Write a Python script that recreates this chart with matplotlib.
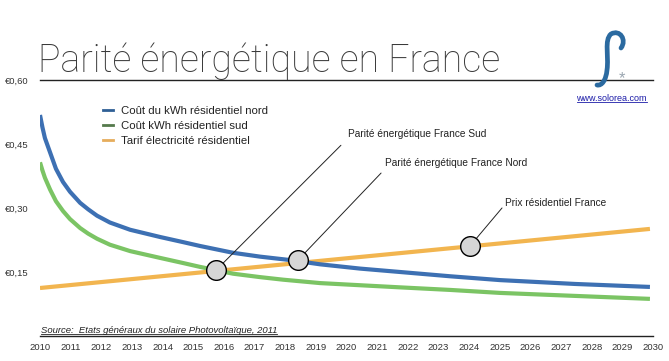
#!/usr/bin/env python3
"""
Parité énergétique en France - coût du kWh PV vs tarif résidentiel
"""

import matplotlib
matplotlib.use('Agg')
import matplotlib.pyplot as plt
from matplotlib.lines import Line2D
from matplotlib.path import Path
from matplotlib.patches import PathPatch

plt.rcParams['font.family'] = ['Liberation Sans', 'DejaVu Sans']

# coût du kWh résidentiel nord
years_nord = [2010.0, 2010.08, 2010.16, 2010.33, 2010.52, 2010.75, 2010.98, 2011.31, 2011.57,
              2011.86, 2012.28, 2012.94, 2013.92, 2014.67, 2015.22, 2016.30, 2017.18,
              2018.16, 2019.14, 2020.44, 2021.75, 2023.38, 2025.01, 2027.45, 2029.9]
cout_nord = [0.518, 0.489, 0.464, 0.430, 0.392, 0.361, 0.338, 0.312, 0.297,
             0.282, 0.266, 0.249, 0.232, 0.220, 0.211, 0.195, 0.186,
             0.178, 0.168, 0.158, 0.150, 0.140, 0.131, 0.122, 0.115]

# coût du kWh résidentiel sud
years_sud = [2010.0, 2010.08, 2010.16, 2010.33, 2010.52, 2010.75, 2010.98, 2011.31, 2011.57,
             2011.86, 2012.28, 2012.94, 2013.92, 2014.67, 2015.22, 2016.30, 2017.18,
             2017.93, 2019.14, 2020.44, 2021.75, 2023.38, 2025.01, 2027.45, 2029.9]
cout_sud = [0.407, 0.388, 0.371, 0.343, 0.316, 0.293, 0.274, 0.253, 0.240,
            0.228, 0.214, 0.199, 0.183, 0.171, 0.162, 0.146, 0.138,
            0.132, 0.124, 0.119, 0.114, 0.108, 0.101, 0.094, 0.087]

# tarif électricité résidentiel
years_tarif = [2010.0, 2029.9]
tarif = [0.1125, 0.251]

# points de parité
parite_years = [2015.74, 2018.42, 2024.03]
parite_vals = [0.154, 0.178, 0.211]
parite_labels = ["Parité énergétique France Sud",
                 "Parité énergétique France Nord",
                 "Prix résidentiel France"]

xticks = list(range(2010, 2031))
yticks = [0.15, 0.30, 0.45, 0.60]
ytick_labels = ["€0,15", "€0,30", "€0,45", "€0,60"]

BLUE = '#3d70b3'
GREEN = '#7bc464'
ORANGE = '#f2b54f'

W, H = 669, 361
fig = plt.figure(figsize=(W / 100, H / 100), dpi=100)
ax = fig.add_axes([40 / W, 25 / H, 613 / W, 256 / H])

ax.plot(years_tarif, tarif, color=ORANGE, lw=3, solid_capstyle='butt', zorder=2)
ax.plot(years_sud, cout_sud, color=GREEN, lw=3, solid_capstyle='butt', zorder=2)
ax.plot(years_nord, cout_nord, color=BLUE, lw=3, solid_capstyle='butt', zorder=3)

# traits d'annotation et textes (décalages en pixels depuis le cercle)
line_off = [(125, 125), (83, 87), (32, 38)]
text_off = [(132, 136), (87, 97), (35, 43)]
for x, y, lab, lo, to in zip(parite_years, parite_vals, parite_labels, line_off, text_off):
    ax.annotate('', xy=(x, y), xytext=(lo[0] * 0.72, lo[1] * 0.72),
                textcoords='offset points',
                arrowprops=dict(arrowstyle='-', color='#222222', lw=0.7,
                                shrinkA=0, shrinkB=0))
    ax.annotate(lab, xy=(x, y), xytext=(to[0] * 0.72, to[1] * 0.72),
                textcoords='offset points', fontsize=7.3, color='#222222',
                ha='left', va='center')
ax.scatter(parite_years, parite_vals, s=200, facecolor='#d6d6d6',
           edgecolor='black', linewidth=1.0, zorder=5)

ax.set_xlim(2010, 2030)
ax.set_ylim(0, 0.60)
ax.set_xticks(xticks)
ax.set_xticklabels([str(y) for y in xticks], fontsize=6.8, color='#333333')
ax.set_yticks(yticks)
ax.set_yticklabels(ytick_labels, fontsize=6.8, color='#333333')
ax.tick_params(length=0)
ax.tick_params(axis='x', pad=5)
ax.tick_params(axis='y', pad=8)
for s in ['left', 'right']:
    ax.spines[s].set_visible(False)
for s in ['top', 'bottom']:
    ax.spines[s].set_linewidth(1.0)
    ax.spines[s].set_color('#222222')

# légende
handles = [Line2D([], [], color='#2f5f95', lw=2),
           Line2D([], [], color='#557a4c', lw=2),
           Line2D([], [], color='#e6ad5c', lw=2)]
labels = ["Coût du kWh résidentiel nord", "Coût kWh résidentiel sud",
          "Tarif électricité résidentiel"]
fig.legend(handles, labels, loc='upper left', bbox_to_anchor=(103 / W, 1 - 106 / H),
           frameon=False, fontsize=8.2, handlelength=0.85, handletextpad=0.75,
           labelspacing=0.42, borderpad=0, borderaxespad=0, labelcolor='#222222')

# titre
fig.text(38 / W, 1 - 72 / H, "Parité énergétique en France", fontsize=27,
         family=['Roboto', 'DejaVu Sans'], fontweight='light', color='#3a3a3a',
         ha='left', va='baseline')

# source et url (soulignés)
src = fig.text(41 / W, 1 - 333 / H, "Source:  Etats généraux du solaire Photovoltaïque, 2011",
               fontsize=6.8, style='italic', color='#222222', ha='left', va='baseline')
url = fig.text(647 / W, 1 - 101 / H, "www.solorea.com", fontsize=6.5,
               color='#1b1ba8', ha='right', va='baseline')
fig.canvas.draw()
for t, c in [(src, '#222222'), (url, '#1b1ba8')]:
    bb = t.get_window_extent()
    fig.add_artist(Line2D([bb.x0 / W, bb.x1 / W], [(bb.y0 + 1.2) / H] * 2,
                          transform=fig.transFigure, color=c, lw=0.6))

# logo (S stylisé + astérisque)
def fpt(x, y):
    return (x / W, 1 - y / H)

verts = [fpt(621, 48), fpt(627, 40), fpt(620, 29), fpt(611, 34),
         fpt(604, 40), fpt(609, 56), fpt(607, 70),
         fpt(606, 80), fpt(602, 86), fpt(597, 85)]
codes = [Path.MOVETO, Path.CURVE4, Path.CURVE4, Path.CURVE4,
         Path.CURVE4, Path.CURVE4, Path.CURVE4,
         Path.CURVE4, Path.CURVE4, Path.CURVE4]
fig.add_artist(PathPatch(Path(verts, codes), transform=fig.transFigure,
                         facecolor='none', edgecolor='#2b6aa0', lw=3.4,
                         capstyle='round'))
fig.text(622 / W, 1 - 79 / H, "*", fontsize=12, color='#9aa6b0',
         ha='center', va='center')

plt.savefig("out.png", dpi=100)
